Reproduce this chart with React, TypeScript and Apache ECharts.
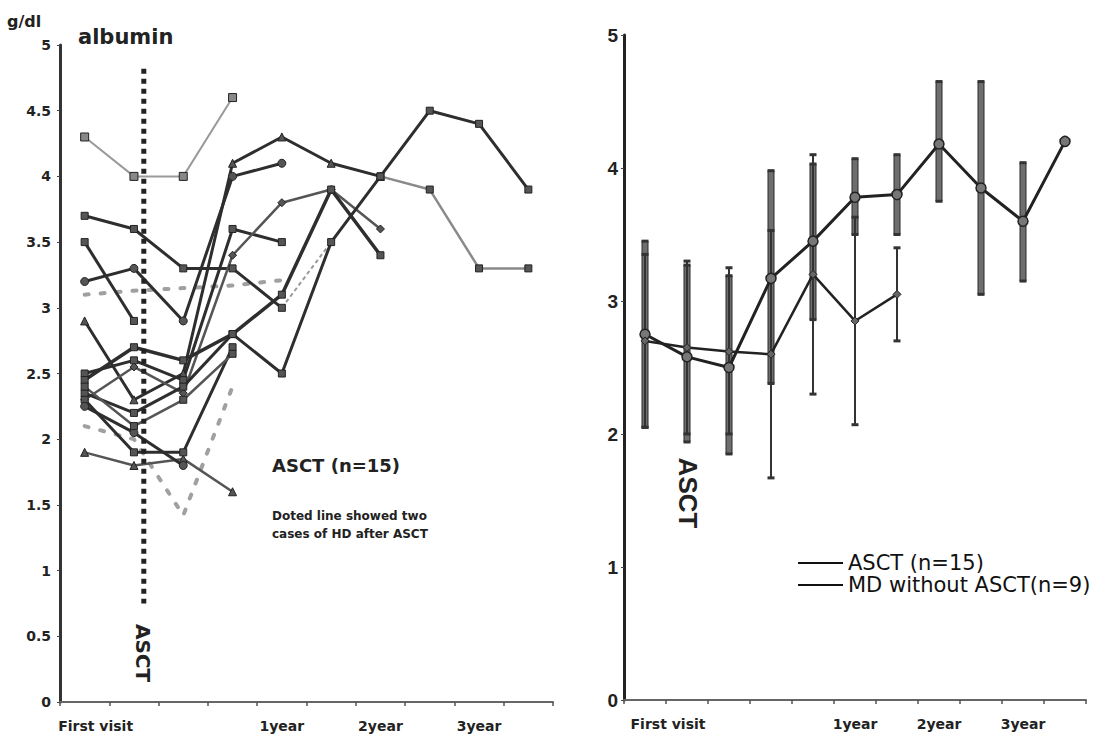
import React, { useEffect, useRef } from 'react';
import * as echarts from 'echarts';

// ---------- Left panel: individual albumin courses (g/dl) ----------
const leftCategories = ['First visit', '', '', '', '1year', '', '2year', '', '3year', ''];

const p01 = [4.3, 4.0, 4.0, 4.6];
const p02 = [3.7, 3.6, 3.3, 3.3, 3.0];
const p02b = [null, null, null, null, 3.0, 3.5];
const p03 = [3.5, 2.9];
const p04 = [3.2, 3.3, 2.9, 4.0, 4.1];
const p05 = [2.9, 2.3, 2.5, 4.1, 4.3, 4.1, 4.0];
const p05b = [null, null, null, null, null, null, 4.0, 3.9, 3.3, 3.3];
const p06 = [2.5, 2.6, 2.45, 3.6, 3.5];
const p07 = [2.3, 2.55, 2.35, 3.4, 3.8, 3.9, 3.6];
const p08 = [2.45, 2.7, 2.6, 2.8, 3.1, 3.9, 3.4];
const p09 = [2.35, 2.2, 2.4, 2.8, 2.5, 3.5, 4.0, 4.5, 4.4, 3.9];
const p10 = [1.9, 1.8, 1.85, 1.6];
const p11 = [2.3, 1.9, 1.9, 2.7];
const p12 = [2.25, 2.05, 1.8];
const p13 = [2.4, 2.1, 2.3, 2.65];
const hd1 = [3.1, 3.13, 3.15, 3.17, 3.21];
const hd2 = [2.1, 2.0, 1.42, 2.4];

const asctMarkX = 1.2;
const asctMarkSpan = [0.75, 4.82];

// ---------- Right panel: mean ± SD ----------
const rightCategories = ['First visit', '', '', '', '', '1year', '', '2year', '', '3year', ''];
const asctMean = [2.75, 2.58, 2.5, 3.17, 3.45, 3.78, 3.8, 4.18, 3.85, 3.6, 4.2];
const asctLow = [2.05, 1.94, 1.85, 2.38, 2.86, 3.5, 3.5, 3.75, 3.05, 3.15, null];
const asctHigh = [3.45, 3.27, 3.19, 3.98, 4.03, 4.07, 4.1, 4.65, 4.65, 4.04, null];
const mdMean = [2.7, 2.65, 2.62, 2.6, 3.2, 2.85, 3.05];
const mdLow = [2.05, 2.0, 2.0, 1.67, 2.3, 2.07, 2.7];
const mdHigh = [3.35, 3.3, 3.25, 3.53, 4.1, 3.63, 3.4];

const ASCT_NAME = 'ASCT (n=15)';
const MD_NAME = 'MD without ASCT(n=9)';

const DARK = '#2e2e2e';
const MID = '#555555';
const LIGHT = '#9a9a9a';

type LineStyleDef = { data: (number | null)[]; color: string; width: number; symbol: string; size: number; dash?: any };

const leftLines: LineStyleDef[] = [
  { data: p01, color: LIGHT, width: 2, symbol: 'rect', size: 8 },
  { data: p02, color: DARK, width: 3, symbol: 'rect', size: 7 },
  { data: p02b, color: LIGHT, width: 2, symbol: 'none', size: 0, dash: [4, 3] },
  { data: p03, color: DARK, width: 3, symbol: 'rect', size: 7 },
  { data: p04, color: DARK, width: 3, symbol: 'circle', size: 8 },
  { data: p05, color: DARK, width: 3, symbol: 'triangle', size: 8 },
  { data: p05b, color: '#8a8a8a', width: 2.5, symbol: 'rect', size: 7 },
  { data: p06, color: DARK, width: 3, symbol: 'rect', size: 7 },
  { data: p07, color: MID, width: 2.5, symbol: 'diamond', size: 8 },
  { data: p08, color: DARK, width: 3.5, symbol: 'rect', size: 7 },
  { data: p09, color: DARK, width: 3, symbol: 'rect', size: 7 },
  { data: p10, color: MID, width: 2.5, symbol: 'triangle', size: 8 },
  { data: p11, color: DARK, width: 3, symbol: 'rect', size: 7 },
  { data: p12, color: DARK, width: 3, symbol: 'circle', size: 8 },
  { data: p13, color: MID, width: 2.5, symbol: 'rect', size: 7 },
];

const boldAxisFont = { fontFamily: 'DejaVu Sans', fontWeight: 'bold' as const, fontSize: 14, color: '#222' };

function makeBarRender(thick: boolean) {
  return (params: any, api: any) => {
    const i = api.value(0);
    const lo = api.coord([i, api.value(1)]);
    const hi = api.coord([i, api.value(2)]);
    const w = thick ? 6 : 2;
    const cap = 7;
    return {
      type: 'group',
      children: [
        {
          type: 'rect',
          shape: { x: lo[0] - w / 2, y: hi[1], width: w, height: lo[1] - hi[1] },
          style: thick ? { fill: '#6e6e6e', stroke: '#2a2a2a', lineWidth: 1 } : { fill: '#333' },
        },
        { type: 'rect', shape: { x: lo[0] - cap / 2, y: hi[1] - 1.5, width: cap, height: 3 }, style: { fill: '#333' } },
        { type: 'rect', shape: { x: lo[0] - cap / 2, y: lo[1] - 1.5, width: cap, height: 3 }, style: { fill: '#333' } },
      ],
    };
  };
}

export default function App() {
  const ref = useRef<HTMLDivElement>(null);

  useEffect(() => {
    if (!ref.current) return;
    const chart = echarts.init(ref.current, undefined, { renderer: 'svg' });

    const leftSeries = leftLines.map((l, idx) => ({
      type: 'line',
      name: 'patient' + idx,
      xAxisIndex: 0,
      yAxisIndex: 0,
      data: l.data,
      symbol: l.symbol,
      symbolSize: l.size,
      connectNulls: false,
      lineStyle: { color: l.color, width: l.width, type: l.dash || 'solid' },
      itemStyle: { color: l.color === LIGHT ? '#888' : '#555', borderColor: '#222', borderWidth: 1 },
      z: 3,
    }));

    const hdSeries = [hd1, hd2].map((d, idx) => ({
      type: 'line',
      name: 'hd' + idx,
      xAxisIndex: 0,
      yAxisIndex: 0,
      data: d,
      symbol: 'none',
      lineStyle: { color: '#a0a0a0', width: 4, type: [4, 12], cap: 'round' },
      z: 2,
    }));

    const asctBars = asctLow
      .map((lo, i) => (lo == null ? null : [i, lo, asctHigh[i]]))
      .filter((d) => d !== null);
    const mdBars = mdLow.map((lo, i) => [i, lo, mdHigh[i]]);

    const option: any = {
      animation: false,
      backgroundColor: '#ffffff',
      grid: [
        { left: 60, right: 541, top: 45, bottom: 36 },
        { left: 624, right: 8, top: 35, bottom: 38 },
      ],
      xAxis: [
        {
          type: 'category',
          gridIndex: 0,
          data: leftCategories,
          boundaryGap: true,
          axisLine: { onZero: false, lineStyle: { color: '#666', width: 2 } },
          axisTick: { show: true, interval: 0, length: 4, lineStyle: { color: '#555', width: 1.5 } },
          axisLabel: {
            interval: 0,
            margin: 17,
            ...boldAxisFont,
            formatter: (v: string, i: number) => (i === 0 ? '{f|' + v + '}' : v),
            rich: { f: { ...boldAxisFont, padding: [0, 0, 0, 22] } },
          },
        },
        { type: 'value', gridIndex: 0, min: -0.5, max: 9.5, show: false },
        {
          type: 'category',
          gridIndex: 1,
          data: rightCategories,
          boundaryGap: true,
          axisLine: { onZero: false, lineStyle: { color: '#666', width: 2 } },
          axisTick: { show: true, interval: 0, length: 4, lineStyle: { color: '#555', width: 1.5 } },
          axisLabel: {
            interval: 0,
            margin: 17,
            ...boldAxisFont,
            formatter: (v: string, i: number) => (i === 0 ? '{f|' + v + '}' : v),
            rich: { f: { ...boldAxisFont, padding: [0, 0, 0, 46] } },
          },
        },
      ],
      yAxis: [
        {
          type: 'value',
          gridIndex: 0,
          min: 0,
          max: 5,
          interval: 0.5,
          splitLine: { show: false },
          axisLine: { show: true, onZero: false, lineStyle: { color: '#333', width: 3 } },
          axisTick: { show: true, length: 3, lineStyle: { color: '#444' } },
          axisLabel: { margin: 9, ...boldAxisFont },
        },
        {
          type: 'value',
          gridIndex: 1,
          min: 0,
          max: 5,
          interval: 1,
          splitLine: { show: false },
          axisLine: { show: true, onZero: false, lineStyle: { color: '#222', width: 3 } },
          axisTick: { show: true, length: 3, lineStyle: { color: '#444' } },
          axisLabel: {
            margin: 6,
            fontFamily: "'Liberation Sans Narrow', 'Liberation Sans', Arial",
            fontWeight: 'bold',
            fontSize: 19,
            color: '#222',
          },
        },
      ],
      legend: {
        data: [ASCT_NAME, MD_NAME],
        orient: 'vertical',
        left: 793,
        top: 547,
        icon: 'rect',
        itemWidth: 45,
        itemHeight: 2,
        itemGap: 0,
        itemStyle: { color: '#111', borderWidth: 0 },
        textStyle: { fontFamily: 'DejaVu Sans', fontSize: 21, color: '#111', lineHeight: 22 },
      },
      graphic: [
        { type: 'text', left: 7, top: 13, style: { text: 'g/dl', fontFamily: 'DejaVu Sans', fontWeight: 'bold', fontSize: 16, fill: '#222' } },
        { type: 'text', left: 78, top: 26, style: { text: 'albumin', fontFamily: 'DejaVu Sans', fontWeight: 'bold', fontSize: 21, fill: '#222' } },
        { type: 'text', left: 272, top: 456, style: { text: 'ASCT (n=15)', fontFamily: 'DejaVu Sans', fontWeight: 'bold', fontSize: 18, fill: '#222' } },
        {
          type: 'text',
          left: 272,
          top: 507,
          style: {
            text: 'Doted line showed two\ncases of HD after ASCT',
            fontFamily: 'DejaVu Sans',
            fontWeight: 'bold',
            fontSize: 12,
            lineHeight: 18,
            fill: '#222',
          },
        },
        {
          type: 'text',
          x: 143,
          y: 653,
          rotation: -Math.PI / 2,
          style: { text: 'ASCT', fontFamily: 'DejaVu Sans', fontWeight: 'bold', fontSize: 20, fill: '#222', align: 'center', verticalAlign: 'middle' },
        },
        {
          type: 'text',
          x: 688,
          y: 493,
          rotation: -Math.PI / 2,
          style: { text: 'ASCT', fontFamily: 'Liberation Sans', fontWeight: 'bold', fontSize: 26, fill: '#222', align: 'center', verticalAlign: 'middle' },
        },
      ],
      series: [
        {
          type: 'line',
          name: 'asctMark',
          xAxisIndex: 1,
          yAxisIndex: 0,
          data: [
            [asctMarkX, asctMarkSpan[1]],
            [asctMarkX, asctMarkSpan[0]],
          ],
          symbol: 'none',
          lineStyle: { color: '#222', width: 5, type: [5, 5] },
          z: 4,
        },
        ...hdSeries,
        ...leftSeries,
        {
          type: 'custom',
          name: 'asctSD',
          xAxisIndex: 2,
          yAxisIndex: 1,
          data: asctBars,
          encode: { x: 0, y: [1, 2] },
          renderItem: makeBarRender(true),
          z: 2,
        },
        {
          type: 'custom',
          name: 'mdSD',
          xAxisIndex: 2,
          yAxisIndex: 1,
          data: mdBars,
          encode: { x: 0, y: [1, 2] },
          renderItem: makeBarRender(false),
          z: 2,
        },
        {
          type: 'line',
          name: ASCT_NAME,
          xAxisIndex: 2,
          yAxisIndex: 1,
          data: asctMean,
          symbol: 'circle',
          symbolSize: 10,
          lineStyle: { color: '#222', width: 3 },
          itemStyle: { color: '#777', borderColor: '#222', borderWidth: 1.5 },
          z: 5,
        },
        {
          type: 'line',
          name: MD_NAME,
          xAxisIndex: 2,
          yAxisIndex: 1,
          data: mdMean,
          symbol: 'diamond',
          symbolSize: 8,
          lineStyle: { color: '#222', width: 2.5 },
          itemStyle: { color: '#666', borderColor: '#222', borderWidth: 1 },
          z: 5,
        },
      ],
    };

    chart.setOption(option);
    return () => chart.dispose();
  }, []);

  return (
    <div
      ref={ref}
      style={{ position: 'fixed', left: 0, top: 0, width: 1094, height: 738, background: '#fff' }}
    />
  );
}
